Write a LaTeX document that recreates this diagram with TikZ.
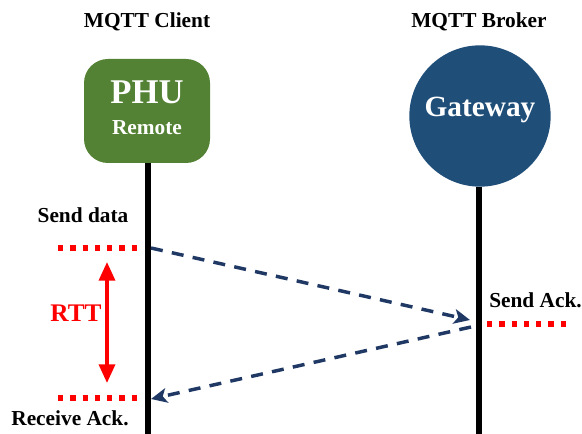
\documentclass[tikz,border=0pt]{standalone}
\usepackage{fontspec}
\setmainfont{Liberation Serif}
\usetikzlibrary{arrows.meta,shapes}

\definecolor{phugreen}{HTML}{548235}
\definecolor{gwblue}{HTML}{1F4E79}
\definecolor{msgnavy}{HTML}{1F3864}

\begin{document}
\begin{tikzpicture}[x=0.75pt,y=-0.75pt,font=\bfseries]
\tikzstyle{txt}=[font=\fontsize{16}{19}\bfseries\selectfont,inner sep=0pt]
\tikzstyle{lifeline}=[line width=5pt,black]
\tikzstyle{msg}=[draw=msgnavy,line width=2.6pt,dash pattern=on 9pt off 7pt,-{Stealth[width=11pt,length=12pt,inset=3pt]}]
\tikzstyle{redline}=[draw=red,line width=4.3pt,dash pattern=on 4pt off 5.2pt]
\useasboundingbox (0,0) rectangle (582,434);

% actors
\node[txt] (clienttitle) at (147,22) {MQTT Client};
\node[txt] (brokertitle) at (479,22) {MQTT Broker};
\node[fill=phugreen,rounded corners=18pt,minimum width=94.5pt,minimum height=78pt] (client) at (147,111) {};
\node[text=white,font=\fontsize{26}{28}\bfseries\selectfont] (phu) at (147,92) {PHU};
\node[text=white,font=\fontsize{16}{19}\bfseries\selectfont] (remote) at (147,128) {Remote};
\node[circle,fill=gwblue,minimum size=106pt,inner sep=0pt] (broker) at (480,116) {};
\node[text=white,font=\fontsize{22}{26}\bfseries\selectfont] (gw) at (480,110) {Gateway};

% lifelines
\coordinate (clientend) at (148,434);
\coordinate (brokerend) at (479,434);
\draw[lifeline] (client.south -| clientend) -- (clientend);
\draw[lifeline] (broker.south -| brokerend) -- (brokerend);

% messages
\coordinate (senddata) at (151,248);
\coordinate (arrive) at (470,320);
\coordinate (sendack) at (471,327);
\coordinate (recvack) at (151,399);
\draw[msg] (senddata) -- (arrive);
\draw[msg] (sendack) -- (recvack);

% timing marks
\coordinate (t1a) at (58,248);
\coordinate (t1b) at (141,248);
\coordinate (t2a) at (58,398);
\coordinate (t2b) at (141,398);
\coordinate (t3a) at (487,324);
\coordinate (t3b) at (570,324);
\draw[redline] (t1a) -- (t1b);
\draw[redline] (t2a) -- (t2b);
\draw[redline] (t3a) -- (t3b);
\coordinate (rtttop) at (107,262);
\coordinate (rttbot) at (107,383);
\draw[red,line width=2.6pt,{Triangle[width=12pt,length=14pt]}-{Triangle[width=12pt,length=14pt]}] (rtttop) -- (rttbot);

% labels
\node[txt] (sdlabel) at (83,215) {Send data};
\node[txt] (ralabel) at (70,418) {Receive Ack.};
\node[txt,anchor=west] (salabel) at (489,300) {Send Ack.};
\node[txt,text=red,font=\fontsize{19}{22}\bfseries\selectfont] (rtt) at (76,313) {RTT};
\end{tikzpicture}
\end{document}
